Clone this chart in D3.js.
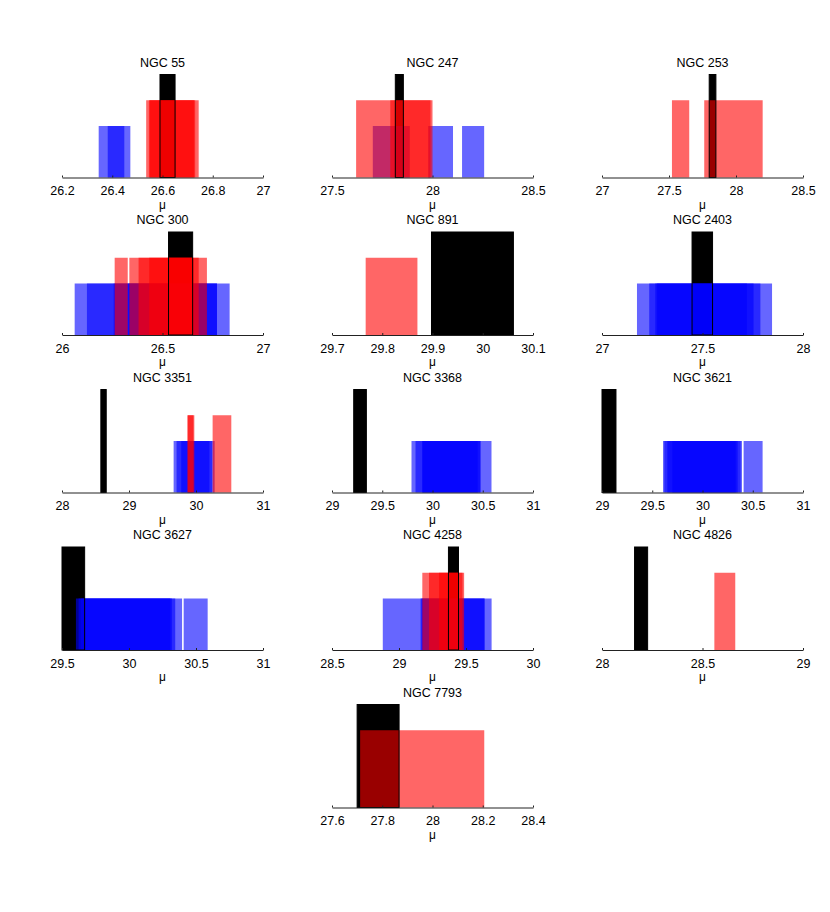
<!DOCTYPE html>
<html>
<head>
<meta charset="utf-8">
<script src="https://cdn.jsdelivr.net/npm/d3@7"></script>
<style>
  body { margin: 0; background: #fff; }
  text { font-family: "Liberation Sans", Arial, sans-serif; }
</style>
</head>
<body>
<svg width="830" height="912"></svg>
<script>
// distance modulus intervals per galaxy

var galaxies = ['NGC 55', 'NGC 247', 'NGC 253', 'NGC 300', 'NGC 891', 'NGC 2403',
  'NGC 3351', 'NGC 3368', 'NGC 3621', 'NGC 3627', 'NGC 4258', 'NGC 4826', 'NGC 7793'];

var domains = [[26.2, 27], [27.5, 28.5], [27, 28.5], [26, 27], [29.7, 30.1], [27, 28],
  [28, 31], [29, 31], [29, 31], [29.5, 31], [28.5, 30], [28, 29], [27.6, 28.4]];

var tickValues = [
  [26.2, 26.4, 26.6, 26.8, 27],
  [27.5, 28, 28.5],
  [27, 27.5, 28, 28.5],
  [26, 26.5, 27],
  [29.7, 29.8, 29.9, 30, 30.1],
  [27, 27.5, 28],
  [28, 29, 30, 31],
  [29, 29.5, 30, 30.5, 31],
  [29, 29.5, 30, 30.5, 31],
  [29.5, 30, 30.5, 31],
  [28.5, 29, 29.5, 30],
  [28, 28.5, 29],
  [27.6, 27.8, 28, 28.2, 28.4]
];

// black = reference, [lo, hi]
var blackBars = [
  [[26.59, 26.65]],
  [[27.815, 27.855]],
  [[27.80, 27.85]],
  [[26.53, 26.65]],
  [[29.898, 30.061]],
  [[27.448, 27.55]],
  [[28.58, 28.66]],
  [[29.216, 29.342]],
  [[29.0, 29.139]],
  [[29.5, 29.669]],
  [[29.369, 29.444]],
  [[28.162, 28.227]],
  [[27.70, 27.867]]
];

var redBars = [
  [[26.535, 26.725], [26.546, 26.744], [26.55, 26.73]],
  [[27.62, 27.99], [27.79, 28.0]],
  [[27.522, 27.651], [27.763, 28.199]],
  [[26.262, 26.327], [26.335, 26.721], [26.381, 26.68], [26.434, 26.647], [26.53, 26.655]],
  [[29.767, 29.870]],
  [],
  [[29.87, 29.975], [29.88, 29.96], [30.248, 30.527]],
  [],
  [],
  [],
  [[29.174, 29.486], [29.224, 29.448], [29.299, 29.474]],
  [[28.559, 28.663]],
  [[27.712, 28.206]]
];

var blueBars = [
  [[26.346, 26.448], [26.382, 26.472]],
  [[27.703, 27.887], [27.979, 28.102], [28.147, 28.257]],
  [],
  [[26.063, 26.834], [26.124, 26.771], [26.257, 26.721], [26.332, 26.771]],
  [],
  [[27.174, 27.846], [27.235, 27.788], [27.265, 27.754], [27.274, 27.721]],
  [[29.666, 30.278], [29.71, 30.24], [29.78, 30.2]],
  [[29.791, 30.587], [29.831, 30.48], [29.898, 30.473], [29.9, 30.45]],
  [[29.607, 30.393], [29.65, 30.35], [29.62, 30.33], [29.70, 30.38], [30.409, 30.598]],
  [[29.604, 30.345], [29.624, 30.32], [29.669, 30.308], [29.64, 30.396], [30.408, 30.587]],
  [[28.879, 29.636], [29.161, 29.691], [29.17, 29.64]],
  [],
  []
];

// bar heights on the hidden y axis
var levels = { black: 4, red: 3, blue: 2 };

// layout
var colX = [62, 332, 602];
var axW = 201;
var axH = 103;
var base0 = 177.5;
var rowStep = 157.5;
var slots = [0, 1, 2, 3, 4, 5, 6, 7, 8, 9, 10, 11, 13];

var svg = d3.select('svg');

galaxies.forEach(function (name, i) {
  var slot = slots[i];
  var col = slot % 3;
  var row = Math.floor(slot / 3);
  var baseY = base0 + rowStep * row;

  var x = d3.scaleLinear().domain(domains[i]).range([0, axW]);
  var y = d3.scaleLinear().domain([0, 4]).range([0, -axH]);

  var g = svg.append('g')
    .attr('transform', 'translate(' + colX[col] + ',' + baseY + ')');

  function bars(data, level, fill, cls) {
    g.selectAll('rect.' + cls)
      .data(data)
      .enter()
      .append('rect')
      .attr('class', cls)
      .attr('x', function (d) { return x(d[0]); })
      .attr('width', function (d) { return x(d[1]) - x(d[0]); })
      .attr('y', y(level))
      .attr('height', y(0) - y(level))
      .style('fill', fill);
  }

  bars(blackBars[i], levels.black, '#000', 'black');
  bars(blueBars[i], levels.blue, 'rgba(0,0,255,0.6)', 'blue');
  bars(redBars[i], levels.red, 'rgba(255,0,0,0.6)', 'red');

  // black edges show through the coloured bars
  g.selectAll('rect.edge')
    .data(blackBars[i])
    .enter()
    .append('rect')
    .attr('class', 'edge')
    .attr('x', function (d) { return x(d[0]); })
    .attr('width', function (d) { return x(d[1]) - x(d[0]); })
    .attr('y', y(levels.black))
    .attr('height', y(0) - y(levels.black))
    .style('fill', 'none')
    .style('stroke', '#000')
    .style('stroke-width', 1);

  var axis = d3.axisBottom(x)
    .tickValues(tickValues[i])
    .tickFormat(d3.format('~g'))
    .tickSizeInner(-2)
    .tickSizeOuter(0)
    .tickPadding(9);

  var ax = g.append('g').call(axis);
  ax.select('.domain').style('stroke', '#222');
  ax.selectAll('.tick line').style('stroke', '#222');
  ax.selectAll('.tick text')
    .style('font-family', '"Liberation Sans", Arial, sans-serif')
    .style('font-size', '12.5px')
    .style('fill', '#000');

  g.append('text')
    .text(name)
    .attr('x', axW / 2)
    .attr('y', -axH - 8)
    .attr('text-anchor', 'middle')
    .style('font-size', '12.5px');

  g.append('text')
    .text('μ')
    .attr('x', axW / 2)
    .attr('y', 31)
    .attr('text-anchor', 'middle')
    .style('font-size', '12px');
});
</script>
</body>
</html>
